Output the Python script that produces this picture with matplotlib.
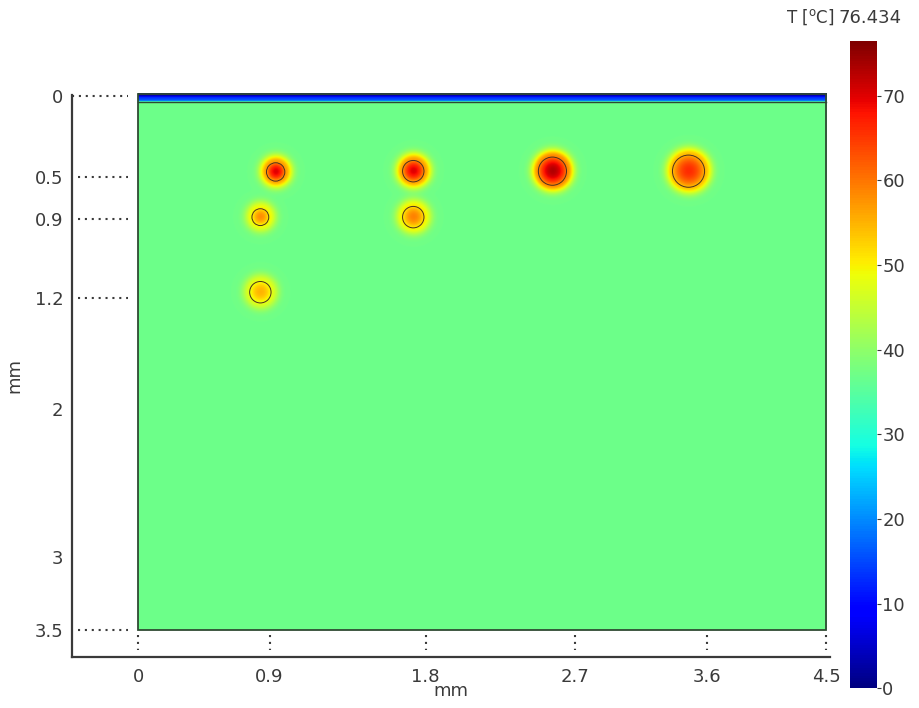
import numpy as np
import matplotlib
matplotlib.use('Agg')
import matplotlib.pyplot as plt
from matplotlib.patches import Circle, Rectangle

# domain size (mm)
width_mm = 4.5
depth_mm = 3.5
t_body = 37.0
t_max = 76.434

# cold surface layer profile: depth (mm) -> temperature
layer_mm = 0.052
surf_depth = [0.0, 0.018, 0.024, 0.048, 0.056]
surf_temp = [2.0, 4.0, 12.0, 17.0, 37.0]

# heated vessels
cx = [0.90, 1.80, 2.71, 3.60, 0.80, 1.80, 0.80]
cy = [0.51, 0.505, 0.505, 0.505, 0.805, 0.805, 1.295]
rad = [0.06, 0.07, 0.092, 0.105, 0.055, 0.07, 0.07]
t_center = [70, 70, 73, 66, 58, 59, 55]

# axis ticks (positions as they sit in the picture)
xtick_pos = [0.0, 0.86, 1.88, 2.86, 3.72, 4.5]
xtick_lab = ['0', '0.9', '1.8', '2.7', '3.6', '4.5']
ytick_pos = [0.013, 0.54, 0.82, 1.33, 2.06, 3.02, 3.5]
ytick_lab = ['0', '0.5', '0.9', '1.2', '2', '3', '3.5']
ydotted = [True, True, True, True, False, False, True]
cbar_ticks = [0, 10, 20, 30, 40, 50, 60, 70]

# build temperature field
xs = np.linspace(0, width_mm, 901)
ys = np.linspace(0, depth_mm, 1401)
X, Y = np.meshgrid(xs, ys)
T = np.interp(Y, surf_depth, surf_temp)
for i in range(len(cx)):
    d = np.sqrt((X - cx[i])**2 + (Y - cy[i])**2)
    t_edge = t_body + 0.6 * (t_center[i] - t_body)
    inside = t_center[i] - (t_center[i] - t_edge) * (d / rad[i])**2
    outside = t_body + (t_edge - t_body) * np.exp(-((d - rad[i]) / 0.05)**2)
    Tc = np.where(d <= rad[i], inside, outside)
    T = T + np.clip(Tc - t_body, 0, None)

fig = plt.figure(figsize=(9.19, 7.08), dpi=100)
ax = fig.add_axes([0.0783, 0.072, 0.825, 0.794])
txt = '#3a3a3a'
edge = '#2f4a33'

im = ax.imshow(T, cmap='jet', vmin=0, vmax=t_max, extent=[0, width_mm, depth_mm, 0],
               aspect='auto', interpolation='bilinear', zorder=1)
im.set_clip_on(False)
r = Rectangle((0, 0), width_mm, depth_mm, fill=False, ec=edge, lw=1.3, zorder=3)
r.set_clip_on(False)
ax.add_patch(r)
ax.plot([0, width_mm], [layer_mm, layer_mm], color=edge, lw=1.0, zorder=3)
for i in range(len(cx)):
    ax.add_patch(Circle((cx[i], cy[i]), rad[i], fill=False, ec='#4a3020', lw=0.7, zorder=3))

ax.set_xlim(-0.432, 4.526)
ax.set_ylim(3.676, 0.007)

for s in ['top', 'right']:
    ax.spines[s].set_visible(False)
for s in ['left', 'bottom']:
    ax.spines[s].set_color(txt)
    ax.spines[s].set_linewidth(1.6)

ax.set_xticks(xtick_pos)
ax.set_xticklabels(xtick_lab)
ax.set_yticks(ytick_pos)
ax.set_yticklabels(ytick_lab)
ax.tick_params(length=0, labelsize=13, colors=txt)
ax.tick_params(axis='x', pad=8)
ax.tick_params(axis='y', pad=6)

# dotted guide lines
dots = (0, (1, 2.3))
for p, show in zip(ytick_pos, ydotted):
    if show:
        x0 = -0.43 if p == ytick_pos[0] else -0.39
        ax.plot([x0, -0.065], [p, p], ls=dots, lw=1.5, color=txt, clip_on=False)
for p in xtick_pos:
    ax.plot([p, p], [3.53, 3.63], ls=dots, lw=1.5, color=txt, clip_on=False)

ax.set_xlabel('mm', fontsize=13, color=txt, labelpad=-3)
ax.set_ylabel('mm', fontsize=13, color=txt, labelpad=8)

# colorbar
cax = fig.add_axes([0.925, 0.028, 0.029, 0.914])
cb = fig.colorbar(im, cax=cax, ticks=cbar_ticks)
cb.outline.set_visible(False)
cax.tick_params(length=3, labelsize=13, colors=txt, pad=1)
fig.text(0.912, 0.962, '76.434', fontsize=13, color=txt, ha='left', va='bottom')
fig.text(0.908, 0.962, r'T [$^{\mathrm{o}}$C]', fontsize=12, color=txt, ha='right', va='bottom')

fig.savefig('out.png', dpi=100)
